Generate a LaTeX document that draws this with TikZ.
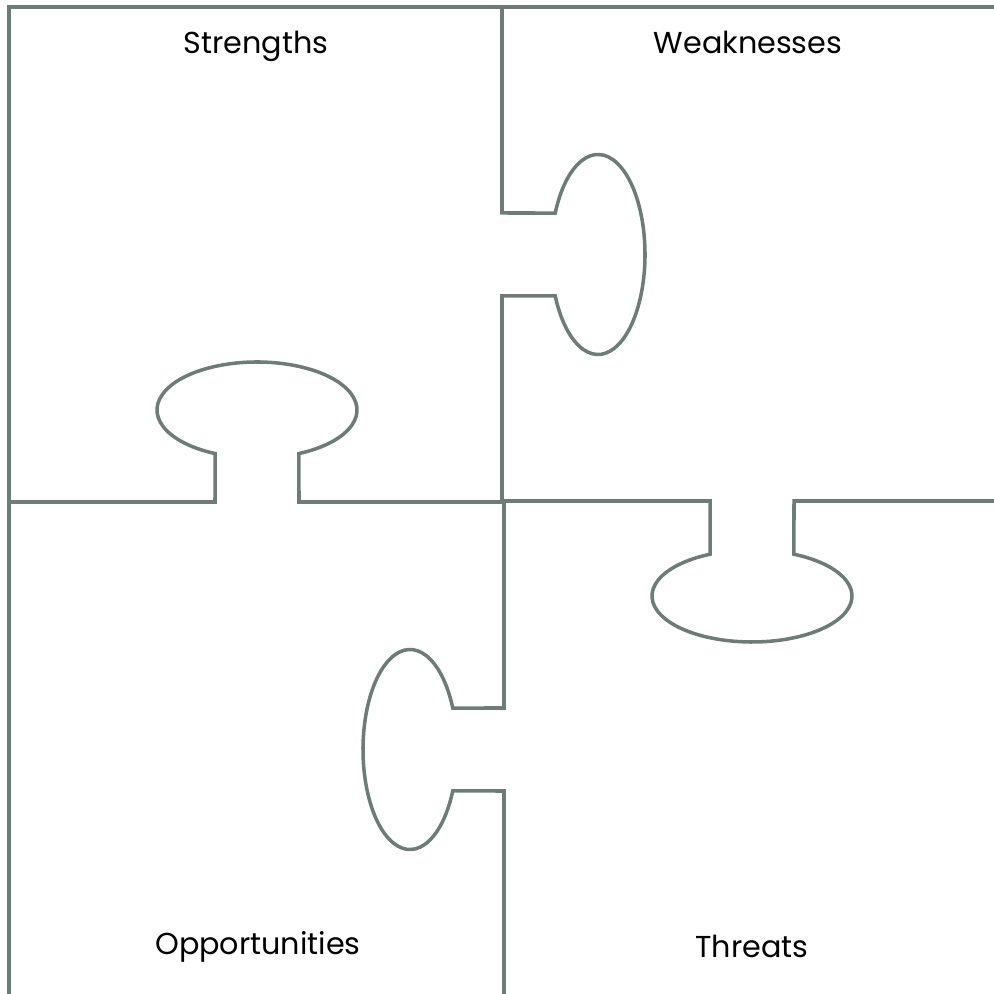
\documentclass[tikz,border=0pt]{standalone}
\usepackage{fontspec}
\setmainfont{Poppins}
\usetikzlibrary{calc}
\definecolor{edge}{RGB}{110,124,119}
\begin{document}
\begin{tikzpicture}[x=0.01cm,y=0.01cm,
  piece/.style={draw=edge,line width=1pt,line join=miter},
  lbl/.style={font=\fontsize{8.6}{10}\selectfont,text=black,anchor=base,inner sep=0pt}]
\useasboundingbox (0,0) rectangle (994,994);
% outer frame lines
\coordinate (tl) at (9,987);
\coordinate (tr) at (994,987);
\coordinate (bl) at (9,0);
\draw[piece] (tr) -- (tl) -- (bl);
% vertical divider top with right knob
\coordinate (vt) at (502,987);
\coordinate (kc1) at (598,739.5);
\draw[piece] (vt) -- (502,781) -- ($(kc1)+(155.5:47 and 100)$)
  arc[start angle=155.5,end angle=-155.5,x radius=47,y radius=100]
  -- (502,698) -- (502,492);
% horizontal divider left with top knob
\coordinate (kc2) at (257,584);
\draw[piece] (9,492) -- (215,492) -- ($(kc2)+(245.2:100 and 48)$)
  arc[start angle=245.2,end angle=-65.2,x radius=100,y radius=48]
  -- (299,492) -- (502,492);
% horizontal divider right with bottom knob
\coordinate (kc3) at (752,398);
\draw[piece] (502,493) -- (710,493) -- ($(kc3)+(114.8:100 and 46)$)
  arc[start angle=114.8,end angle=425.2,x radius=100,y radius=46]
  -- (794,493) -- (994,493);
% vertical divider bottom with left knob
\coordinate (kc4) at (410,244.5);
\coordinate (vb) at (504,0);
\draw[piece] (504,493) -- (504,286) -- ($(kc4)+(24.5:47 and 100)$)
  arc[start angle=24.5,end angle=335.5,x radius=47,y radius=100]
  -- (504,203) -- (vb);
% labels
\node[lbl] (s) at (256,940) {Strengths};
\node[lbl] (w) at (748,940) {Weaknesses};
\node[lbl] (o) at (258,39) {Opportunities};
\node[lbl] (t) at (752,36) {Threats};
\end{tikzpicture}
\end{document}
